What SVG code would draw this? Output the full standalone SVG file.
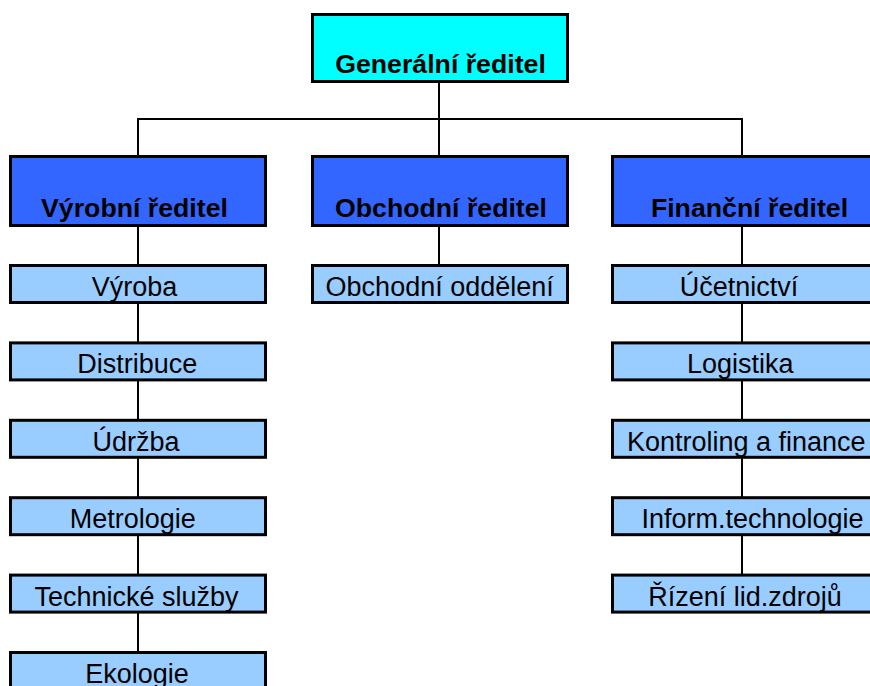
<svg xmlns="http://www.w3.org/2000/svg" width="870" height="686" viewBox="0 0 870 686">
<style>
.box{stroke:#000;stroke-width:3}
.top{fill:#00FFFF}
.l1{fill:#3366FF}
.l2{fill:#99CCFF}
.conn line{stroke:#000;stroke-width:2}
text{font-family:"Liberation Sans",Arial,sans-serif;font-size:27px;fill:#000;text-anchor:middle}
.b{font-weight:bold;font-size:26.7px}
</style>
<rect width="870" height="686" fill="#fff"/>
<g id="connectors" class="conn">
<line x1="439" y1="83" x2="439" y2="119"/>
<line x1="137" y1="119" x2="743" y2="119"/>
<line x1="138" y1="119" x2="138" y2="155"/>
<line x1="439" y1="119" x2="439" y2="155"/>
<line x1="742" y1="119" x2="742" y2="155"/>
<line x1="138" y1="227" x2="138" y2="651"/>
<line x1="439" y1="227" x2="439" y2="264"/>
<line x1="742" y1="227" x2="742" y2="574"/>
</g>
<g id="n-generalni"><rect class="box top" x="312.5" y="14.5" width="255" height="67"/><text class="b" x="440.5" y="73">Generální ředitel</text></g>
<g id="n-vyrobni"><rect class="box l1" x="10.5" y="156.5" width="255" height="69"/><text class="b" x="134.5" y="217">Výrobní ředitel</text></g>
<g id="n-obchodni"><rect class="box l1" x="312.5" y="156.5" width="255" height="69"/><text class="b" x="441" y="217">Obchodní ředitel</text></g>
<g id="n-financni"><rect class="box l1" x="612.5" y="156.5" width="262" height="69"/><text class="b" x="749.5" y="217">Finanční ředitel</text></g>
<g id="n-vyroba"><rect class="box l2" x="10.5" y="265.5" width="255" height="37"/><text x="134.5" y="296">Výroba</text></g>
<g id="n-distribuce"><rect class="box l2" x="10.5" y="342.9" width="255" height="37"/><text x="137.3" y="373.4">Distribuce</text></g>
<g id="n-udrzba"><rect class="box l2" x="10.5" y="420.3" width="255" height="37"/><text x="136" y="450.8">Údržba</text></g>
<g id="n-metrologie"><rect class="box l2" x="10.5" y="497.7" width="255" height="37"/><text x="132.7" y="528.2">Metrologie</text></g>
<g id="n-technicke"><rect class="box l2" x="10.5" y="575.1" width="255" height="37"/><text x="136.5" y="605.6">Technické služby</text></g>
<g id="n-ekologie"><rect class="box l2" x="10.5" y="652.5" width="255" height="37"/><text x="137" y="683">Ekologie</text></g>
<g id="n-obchodni-oddeleni"><rect class="box l2" x="312.5" y="265.5" width="255" height="37"/><text x="439.7" y="296">Obchodní oddělení</text></g>
<g id="n-ucetnictvi"><rect class="box l2" x="612.5" y="265.5" width="262" height="37"/><text x="739" y="296">Účetnictví</text></g>
<g id="n-logistika"><rect class="box l2" x="612.5" y="342.9" width="262" height="37"/><text x="740.3" y="373.4">Logistika</text></g>
<g id="n-kontroling"><rect class="box l2" x="612.5" y="420.3" width="262" height="37"/><text x="746.3" y="450.8">Kontroling a finance</text></g>
<g id="n-inform"><rect class="box l2" x="612.5" y="497.7" width="262" height="37"/><text x="752.5" y="528.2">Inform.technologie</text></g>
<g id="n-rizeni"><rect class="box l2" x="612.5" y="575.1" width="262" height="37"/><text x="745" y="605.6">Řízení lid.zdrojů</text></g>
</svg>
